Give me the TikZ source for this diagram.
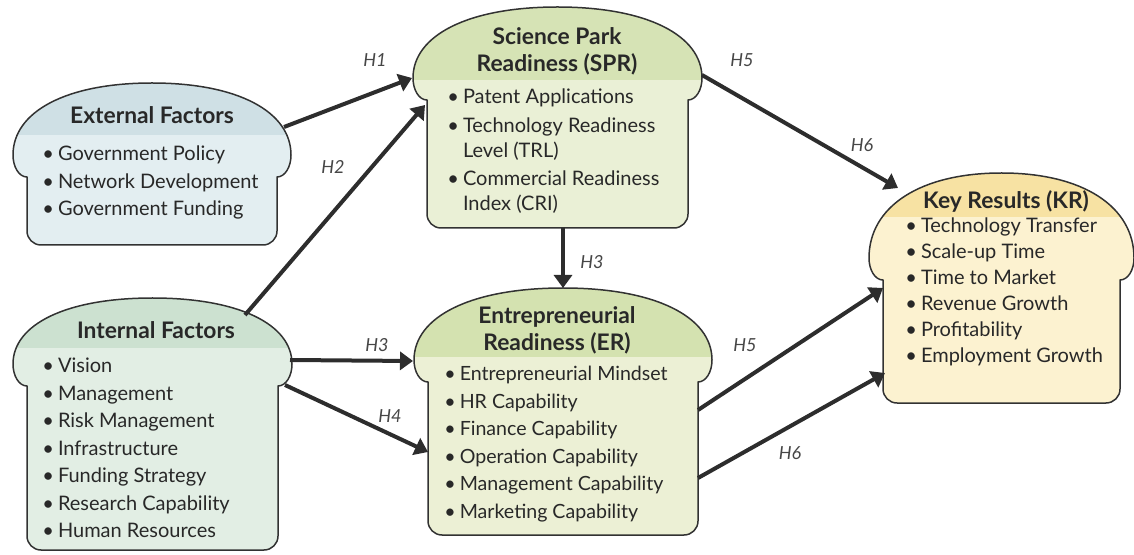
\documentclass[tikz,border=0pt]{standalone}
\usepackage{fontspec}
\setmainfont{Lato}
\usetikzlibrary{arrows.meta}

\definecolor{extHead}{RGB}{207,224,229}
\definecolor{extBody}{RGB}{227,238,241}
\definecolor{intHead}{RGB}{204,225,208}
\definecolor{intBody}{RGB}{226,238,228}
\definecolor{sprHead}{RGB}{214,227,181}
\definecolor{sprBody}{RGB}{234,240,214}
\definecolor{erHead}{RGB}{212,226,176}
\definecolor{erBody}{RGB}{236,240,213}
\definecolor{krHead}{RGB}{247,226,163}
\definecolor{krBody}{RGB}{252,242,208}
\definecolor{inkgray}{RGB}{40,40,40}
\definecolor{outline}{RGB}{50,50,50}
\definecolor{arrowgray}{RGB}{45,45,45}
\definecolor{labelgray}{RGB}{70,70,70}

% loaf outline: #1 colour set, #2 left, #3 right, #4 top, #5 header line, #6 notch, #7 bottom
\newcommand{\loaf}[7]{%
  \pgfmathsetmacro\lfM{(#2+#3)/2}%
  \pgfmathsetmacro\lfW{#6-22}%
  \pgfmathsetmacro\lfDx{0.62*((#3-#2)/2+14)}%
  \pgfmathsetmacro\lfDy{0.6*(\lfW-#4)}%
  \def\lfpath{(#3,#6) -- (#3,{#7-14}) arc[start angle=0, end angle=-90, radius=7pt]
    -- ({#2+14},#7) arc[start angle=270, end angle=180, radius=7pt] -- (#2,#6)
    .. controls ({#2-8},#6) and ({#2-14},{#6-10}) .. ({#2-14},\lfW)
    .. controls ({#2-14},{\lfW-\lfDy}) and ({\lfM-\lfDx},#4) .. (\lfM,#4)
    .. controls ({\lfM+\lfDx},#4) and ({#3+14},{\lfW-\lfDy}) .. ({#3+14},\lfW)
    .. controls ({#3+14},{#6-10}) and ({#3+8},#6) .. (#3,#6) -- cycle}%
  \begin{scope}
    \clip \lfpath;
    \fill[#1Head] ({#2-20},{#4-5}) rectangle ({#3+20},#5);
    \fill[#1Body] ({#2-20},#5) rectangle ({#3+20},{#7+5});
  \end{scope}
  \draw[loafline] \lfpath;
}

\begin{document}
\begin{tikzpicture}[
    x=0.5pt, y=-0.5pt,
    every node/.style={inner sep=0pt, text=inkgray},
    title/.style={font=\fontsize{11.4}{13.5}\selectfont\bfseries, align=center},
    items/.style={font=\fontsize{10}{13.75}\selectfont, anchor=north west},
    arrow/.style={-{Triangle[length=6.5pt,width=9pt]}, line width=2pt, draw=arrowgray},
    hlabel/.style={font=\fontsize{9}{10}\selectfont\itshape, text=labelgray},
    loafline/.style={draw=outline, line width=0.75pt, line join=round}
    ]
    \useasboundingbox (0,0) rectangle (1134,555);

    % boxes
    \loaf{ext}{27}{277}{83}{135}{177}{245}
    \loaf{int}{27}{278}{298}{348}{386}{550}
    \loaf{spr}{427}{688}{7}{80}{100}{228}
    \loaf{er}{428}{698}{288}{357}{382}{535}
    \loaf{kr}{883}{1120}{173}{217}{280}{403}

    \node[title] (ext-title) at (152,115) {External Factors};
    \node[items] (ext-items) at (42,141) {\begin{tabular}{@{}l@{\hspace{2pt}}l@{}}
        \textbullet & Government Policy\\
        \textbullet & Network Development\\
        \textbullet & Government Funding
      \end{tabular}};

    \node[title] (int-title) at (156,330) {Internal Factors};
    \node[items] (int-items) at (42,353) {\begin{tabular}{@{}l@{\hspace{2pt}}l@{}}
        \textbullet & Vision\\
        \textbullet & Management\\
        \textbullet & Risk Management\\
        \textbullet & Infrastructure\\
        \textbullet & Funding Strategy\\
        \textbullet & Research Capability\\
        \textbullet & Human Resources
      \end{tabular}};

    \node[title] (spr-title) at (557,51) {Science Park\\Readiness (SPR)};
    \node[items, font=\fontsize{10}{12.5}\selectfont] (spr-items) at (447,86) {\begin{tabular}{@{}l@{\hspace{2pt}}l@{}}
        \textbullet & Patent Applications\\[1.75pt]
        \textbullet & Technology Readiness\\
                    & Level (TRL)\\[1.75pt]
        \textbullet & Commercial Readiness\\
                    & Index (CRI)
      \end{tabular}};

    \node[title] (er-title) at (557,330) {Entrepreneurial\\Readiness (ER)};
    \node[items, font=\fontsize{9.8}{13.75}\selectfont] (er-items) at (444,361) {\begin{tabular}{@{}l@{\hspace{2pt}}l@{}}
        \textbullet & Entrepreneurial Mindset\\
        \textbullet & HR Capability\\
        \textbullet & Finance Capability\\
        \textbullet & Operation Capability\\
        \textbullet & Management Capability\\
        \textbullet & Marketing Capability
      \end{tabular}};

    \node[title] (kr-title) at (1006,201) {Key Results (KR)};
    \node[items, font=\fontsize{10}{13}\selectfont] (kr-items) at (905,214) {\begin{tabular}{@{}l@{\hspace{2pt}}l@{}}
        \textbullet & Technology Transfer\\
        \textbullet & Scale-up Time\\
        \textbullet & Time to Market\\
        \textbullet & Revenue Growth\\
        \textbullet & Profitability\\
        \textbullet & Employment Growth
      \end{tabular}};

    % arrow ends on the box outlines
    \coordinate (ext-out) at (284,127);
    \coordinate (int-out1) at (245,315);
    \coordinate (int-out2) at (290,360);
    \coordinate (int-out3) at (285,385);
    \coordinate (spr-in1) at (412,78);
    \coordinate (spr-in2) at (425,105);
    \coordinate (spr-out1) at (563,228);
    \coordinate (spr-out2) at (702,75);
    \coordinate (er-in1) at (563,288);
    \coordinate (er-in2) at (413,361);
    \coordinate (er-in3) at (428,452);
    \coordinate (er-out1) at (698,410);
    \coordinate (er-out2) at (698,478);
    \coordinate (kr-in1) at (898,188);
    \coordinate (kr-in2) at (883,288);
    \coordinate (kr-in3) at (885,373);

    \draw[arrow] (ext-out) -- (spr-in1);
    \draw[arrow] (int-out1) -- (spr-in2);
    \draw[arrow] (spr-out1) -- (er-in1);
    \draw[arrow] (int-out2) -- (er-in2);
    \draw[arrow] (int-out3) -- (er-in3);
    \draw[arrow] (spr-out2) -- (kr-in1);
    \draw[arrow] (er-out1) -- (kr-in2);
    \draw[arrow] (er-out2) -- (kr-in3);

    \node[hlabel] (h1) at (375,60) {H1};
    \node[hlabel] (h2) at (333,167) {H2};
    \node[hlabel] (h3a) at (592,262) {H3};
    \node[hlabel] (h3b) at (377,345) {H3};
    \node[hlabel] (h4) at (390,416) {H4};
    \node[hlabel] (h5a) at (742,60) {H5};
    \node[hlabel] (h6a) at (862,145) {H6};
    \node[hlabel] (h5b) at (745,345) {H5};
    \node[hlabel] (h6b) at (790,453) {H6};
\end{tikzpicture}
\end{document}
